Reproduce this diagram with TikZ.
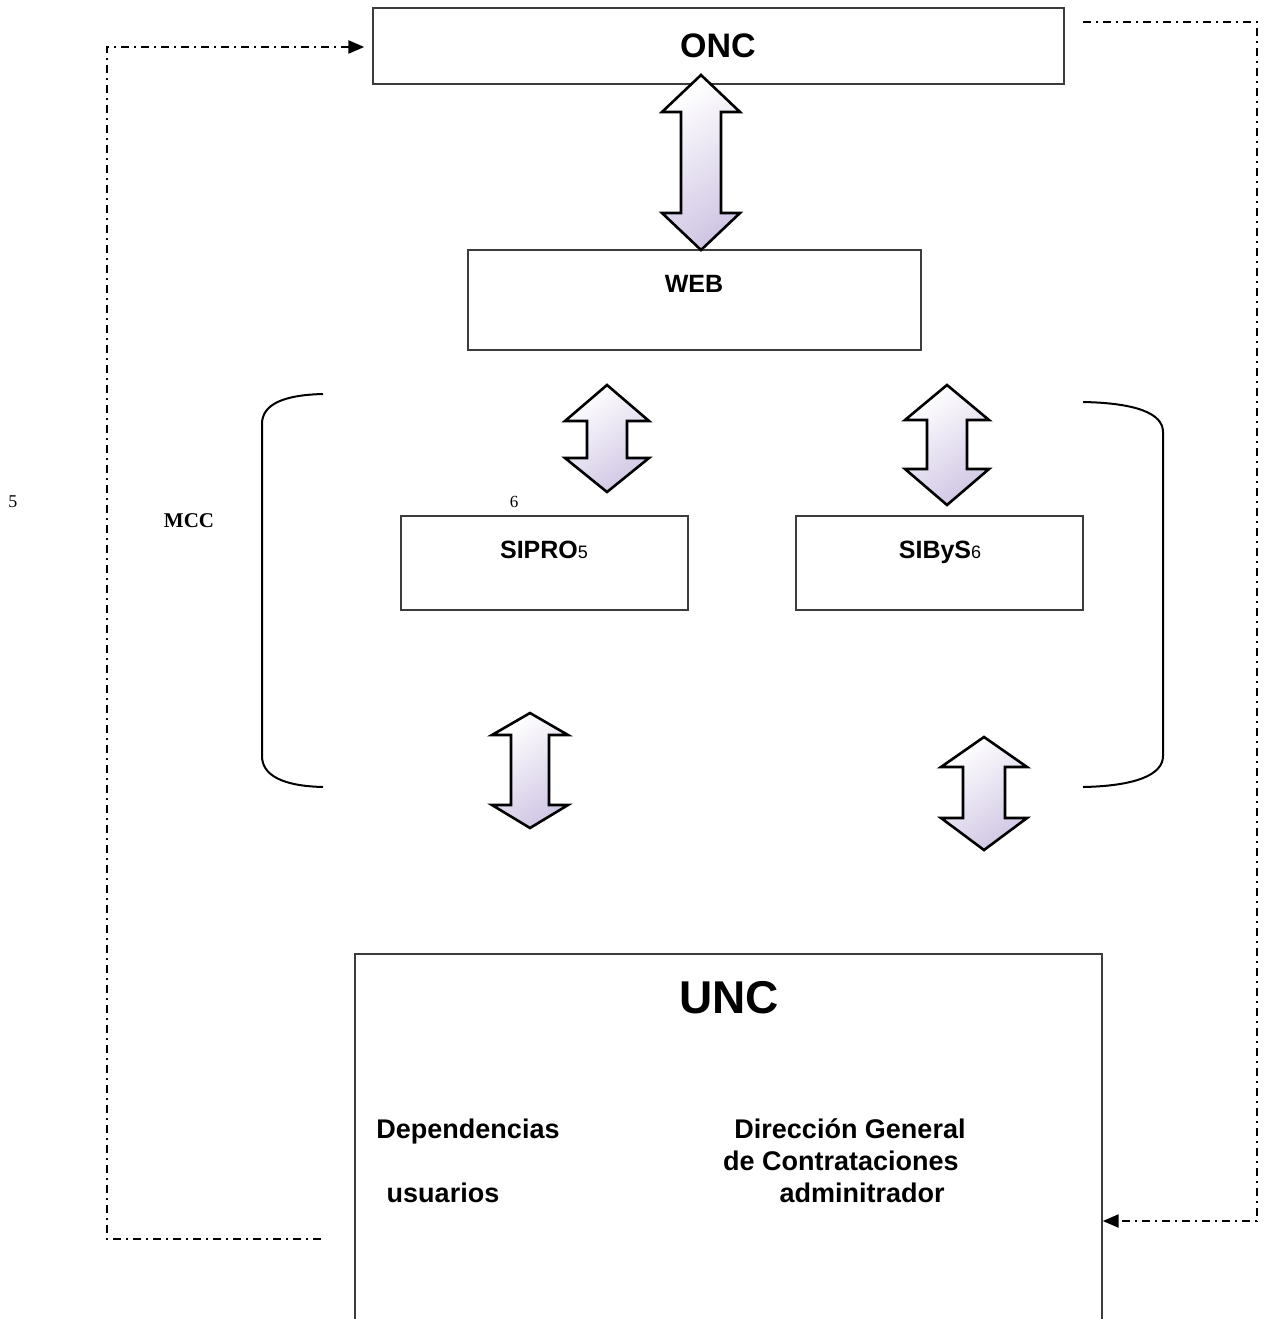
\documentclass[tikz,border=0pt]{standalone}
\usepackage{fontspec}
\setmainfont{Liberation Sans}
\newfontfamily\serifd{Liberation Serif}
\usetikzlibrary{arrows.meta}
\definecolor{purp}{RGB}{208,198,228}
\definecolor{boxgray}{RGB}{60,60,60}
\newcommand\dblarr[7]{% cx, top, headbase, lowbase, bottom, headhalf, shafthalf
  \shadedraw[dblsty] (#1,#2) -- ({#1+#6},#3) -- ({#1+#7},#3) -- ({#1+#7},#4) -- ({#1+#6},#4) -- (#1,#5)
    -- ({#1-#6},#4) -- ({#1-#7},#4) -- ({#1-#7},#3) -- ({#1-#6},#3) -- cycle;}
\begin{document}
\begin{tikzpicture}[x=1pt,y=-1pt,
  box/.style={draw=boxgray,line width=1.4pt,inner sep=0pt},
  txt/.style={inner sep=0pt,anchor=base,font=\bfseries},
  dblsty/.style={draw=black,line width=2.6pt,line join=miter,top color=white,bottom color=purp,shading angle=35},
  dashdot/.style={line width=2.4pt,dash pattern=on 8pt off 5pt on 2pt off 5pt},
  tip/.style={-{Triangle[length=16pt,width=13pt]}},
  brack/.style={line width=2pt}]
\useasboundingbox (0,0) rectangle (1264,1319);
% boxes
\node[box,minimum width=691pt,minimum height=76pt] (onc) at (718.5,46) {};
\node[box,minimum width=453pt,minimum height=100pt] (web) at (694.5,300) {};
\node[box,minimum width=287pt,minimum height=94pt] (sipro) at (544.5,563) {};
\node[box,minimum width=287pt,minimum height=94pt] (sibys) at (939.5,563) {};
\node[box,minimum width=747pt,minimum height=380pt] (unc) at (728.5,1144) {};
% texts
\node[txt,font=\bfseries\fontsize{34}{34}\selectfont] (onct) at (718,58) {ONC};
\node[txt,font=\bfseries\fontsize{25}{25}\selectfont] (webt) at (694,292) {WEB};
\node[txt] (siprot) at (544,558) {{\bfseries\fontsize{25}{25}\selectfont SIPRO}{\mdseries\fontsize{18}{18}\selectfont 5}};
\node[txt] (sibyst) at (940,558) {{\bfseries\fontsize{25}{25}\selectfont SIByS}{\mdseries\fontsize{18}{18}\selectfont 6}};
\node[txt,font=\bfseries\fontsize{46}{46}\selectfont] (unct) at (729,1013) {UNC};
\node[txt,font=\bfseries\fontsize{27}{27}\selectfont] (dep) at (468,1138) {Dependencias};
\node[txt,font=\bfseries\fontsize{27}{27}\selectfont] (usu) at (443,1202) {usuarios};
\node[txt,font=\bfseries\fontsize{27}{27}\selectfont] (dgc1) at (850,1138) {Dirección General};
\node[txt,font=\bfseries\fontsize{27}{27}\selectfont] (dgc2) at (841,1170) {de Contrataciones};
\node[txt,font=\bfseries\fontsize{27}{27}\selectfont] (adm) at (862,1202) {adminitrador};
\node[txt,font=\serifd\bfseries\fontsize{21}{21}\selectfont] (mcc) at (189,527) {MCC};
\node[txt,font=\serifd\mdseries\fontsize{18}{18}\selectfont] (n5) at (13,507) {5};
\node[txt,font=\serifd\mdseries\fontsize{17}{17}\selectfont] (n6) at (514,507) {6};
% double arrows
\dblarr{701}{75}{112}{213}{250}{39}{20}
\dblarr{607}{385}{421}{458}{492}{42}{20}
\dblarr{947}{385}{420}{469}{505}{42}{20}
\dblarr{530}{713}{735}{805}{828}{38}{19}
\dblarr{984}{737}{767}{818}{850}{43}{21}
% brackets
\draw[brack] (323,394) .. controls (282,395) and (262,405) .. (262,424) -- (262,756) .. controls (262,775) and (282,786) .. (323,787);
\draw[brack] (1083,402) .. controls (1135,403) and (1163,413) .. (1163,432) -- (1163,756) .. controls (1163,775) and (1135,786) .. (1083,787);
% dash-dot connectors
\coordinate (l1) at (321,1239);
\coordinate (l2) at (107,1239);
\coordinate (l3) at (107,47);
\coordinate (r1) at (1083,22);
\coordinate (r2) at (1257,22);
\coordinate (r3) at (1257,1221);
\draw[dashdot,tip,shorten >=8pt] (l1) -- (l2) -- (l3) -- (l3 -| onc.west);
\draw[dashdot,tip] (r1) -- (r2) -- (r3) -- (r3 -| unc.east);
\end{tikzpicture}
\end{document}
